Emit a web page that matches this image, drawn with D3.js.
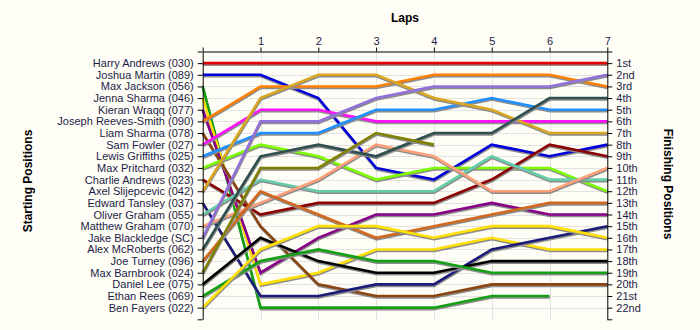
<!DOCTYPE html>
<html>
<head>
<meta charset="utf-8">
<script src="https://cdn.jsdelivr.net/npm/d3@7"></script>
<style>
  html, body { margin: 0; padding: 0; background: #fffef6; }
  svg { display: block; font-family: "Liberation Sans", Arial, sans-serif; }
  .axis text { font-size: 11px; fill: #1c1c48; }
  .axis path, .axis line { stroke: #000; stroke-width: 1; }
  .title { font-size: 12px; font-weight: bold; fill: #000; }
</style>
</head>
<body>
<svg id="chart" width="700" height="330"></svg>
<script>
// Drivers in starting order
const drivers = [
  "Harry Andrews (030)", "Joshua Martin (089)", "Max Jackson (056)", "Jenna Sharma (046)",
  "Kieran Wraqq (077)", "Joseph Reeves-Smith (090)", "Liam Sharma (078)", "Sam Fowler (027)",
  "Lewis Griffiths (025)", "Max Pritchard (032)", "Charlie Andrews (023)", "Axel Slijepcevic (042)",
  "Edward Tansley (037)", "Oliver Graham (055)", "Matthew Graham (070)", "Jake Blackledge (SC)",
  "Alex McRoberts (062)", "Joe Turney (096)", "Max Barnbrook (024)", "Daniel Lee (075)",
  "Ethan Rees (069)", "Ben Fayers (022)"
];

const lineColours = [
  "#e00000", "#0000dd", "#13a013", "#ffe000",
  "#880088", "#ff8000", "#8b4513", "#ff10ff",
  "#1e90ff", "#7cfc00", "#8b0000", "#daa520",
  "#1c1c78", "#66cdaa", "#ffa07a", "#9370db",
  "#2f4f4f", "#d2691e", "#808000", "#000000",
  "#13a013", "#ffe000"
];

// Position held at the end of each lap (index 0 = grid); shorter rows = retired
const lapPositions = [
  [1, 1, 1, 1, 1, 1, 1, 1],
  [2, 2, 4, 10, 11, 8, 9, 8],
  [3, 22, 22, 22, 22, 21, 21],
  [4, 20, 19, 17, 17, 16, 17, 17],
  [5, 19, 16, 14, 14, 13, 14, 14],
  [6, 3, 3, 3, 2, 2, 2, 3],
  [7, 15, 20, 21, 21, 20, 20, 20],
  [8, 5, 5, 6, 6, 6, 6, 6],
  [9, 7, 7, 5, 5, 4, 5, 5],
  [10, 8, 9, 11, 10, 10, 10, 12],
  [11, 14, 13, 13, 13, 11, 8, 9],
  [12, 4, 2, 2, 4, 5, 7, 7],
  [13, 21, 21, 20, 20, 17, 16, 15],
  [14, 11, 12, 12, 12, 9, 11, 11],
  [15, 13, 11, 8, 9, 12, 12, 10],
  [16, 6, 6, 4, 3, 3, 3, 2],
  [17, 9, 8, 9, 7, 7, 4, 4],
  [18, 12, 14, 16, 15, 14, 13, 13],
  [19, 10, 10, 7, 8],
  [20, 16, 18, 19, 19, 18, 18, 18],
  [21, 18, 17, 18, 18, 19, 19, 19],
  [22, 17, 15, 15, 16, 15, 15, 16]
];

const finishLabels = [
  "1st", "2nd", "3rd", "4th", "5th", "6th", "7th", "8th", "9th", "10th", "11th",
  "12th", "13th", "14th", "15th", "16th", "17th", "18th", "19th", "20th", "21st", "22nd"
];

const laps = [0, 1, 2, 3, 4, 5, 6, 7];

const svg = d3.select("#chart");

const x = d3.scaleLinear().domain([0, 7]).range([202.7, 607.3]);
const y = d3.scaleLinear().domain([0, 23]).range([51.5, 319.3]);

const rows = d3.range(1, drivers.length + 1);

// Grid
const grid = svg.append("g").attr("class", "grid");
grid.selectAll("line.h").data(rows).join("line")
  .attr("x1", x(0)).attr("x2", x(7))
  .attr("y1", d => Math.round(y(d)) + 0.5).attr("y2", d => Math.round(y(d)) + 0.5)
  .attr("stroke", "#e2e2e2").attr("stroke-width", 1);
grid.selectAll("line.v").data(laps.slice(1, -1)).join("line")
  .attr("y1", y(0)).attr("y2", y(23))
  .attr("x1", d => Math.round(x(d)) + 0.5).attr("x2", d => Math.round(x(d)) + 0.5)
  .attr("stroke", "#e2e2e2").attr("stroke-width", 1);

// Lap lines
const line = d3.line()
  .x((d, i) => x(i))
  .y(d => y(d));

const series = svg.append("g").selectAll("g").data(lapPositions).join("g");
series.append("path")
  .attr("d", d => line(d))
  .attr("fill", "none")
  .attr("stroke", "#8c8c8c")
  .attr("stroke-width", 2.4)
  .attr("transform", "translate(0.4,1.6)");
series.append("path")
  .attr("d", d => line(d))
  .attr("fill", "none")
  .attr("stroke", (d, i) => lineColours[i])
  .attr("stroke-width", 2.6);

// Axes
const tickAll = d3.range(0, 24);

svg.append("g").attr("class", "axis")
  .attr("transform", `translate(${x(0)},0)`)
  .call(d3.axisLeft(y).tickValues(tickAll).tickSize(5).tickSizeOuter(0).tickPadding(4)
    .tickFormat(d => (d >= 1 && d <= drivers.length) ? drivers[d - 1] : ""));

svg.append("g").attr("class", "axis")
  .attr("transform", `translate(${x(7)},0)`)
  .call(d3.axisRight(y).tickValues(tickAll).tickSize(5).tickSizeOuter(0).tickPadding(4)
    .tickFormat(d => (d >= 1 && d <= finishLabels.length) ? finishLabels[d - 1] : ""));

const topAxis = svg.append("g").attr("class", "axis")
  .attr("transform", `translate(0,${y(0)})`)
  .call(d3.axisTop(x).tickValues(laps).tickSize(4).tickSizeOuter(0).tickPadding(3)
    .tickFormat(d => d === 0 ? "" : d));
topAxis.selectAll(".tick text")
  .attr("font-size", 12)
  .attr("fill", d => d === 1 ? "#4a0a4a" : "#000");

svg.selectAll(".axis path.domain").attr("stroke-width", 1.2);

// Titles
svg.append("text").attr("class", "title")
  .attr("x", (x(0) + x(7)) / 2).attr("y", 22)
  .attr("text-anchor", "middle").text("Laps");

svg.append("text").attr("class", "title")
  .attr("transform", "translate(32,181) rotate(-90)")
  .attr("text-anchor", "middle").text("Starting Positions");

svg.append("text").attr("class", "title")
  .attr("transform", "translate(664,184) rotate(90)")
  .attr("text-anchor", "middle").text("Finishing Positions");
</script>
</body>
</html>
